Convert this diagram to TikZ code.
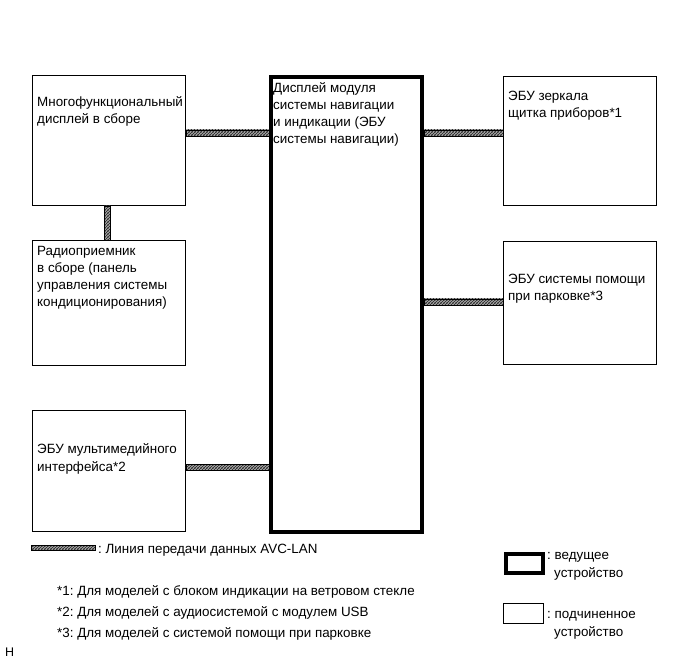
\documentclass[tikz,border=0pt]{standalone}
\usepackage{fontspec}
\setmainfont{Liberation Sans}
\frenchspacing
\usetikzlibrary{patterns.meta}
\tikzdeclarepattern{
  name=avchatch,
  type=uncolored,
  bottom left={(-.6pt,-.6pt)},
  top right={(3.6pt,3.6pt)},
  tile size={(3pt,3pt)},
  code={\draw[line width=1.1pt] (-.6pt,-.6pt) -- (3.6pt,3.6pt);}
}
\tikzset{
  slave/.style={draw, line width=0.8pt, anchor=north west, inner sep=0pt},
  master/.style={draw, line width=4pt, anchor=north west, inner sep=0pt},
  lbl/.style={anchor=base west, inner sep=0pt, align=left, font=\fontsize{13.4}{17.2}\selectfont},
  avc/.style={draw, line width=0.5pt, pattern=avchatch, pattern color=black!80},
  note/.style={anchor=base west, inner sep=0pt, font=\fontsize{13.4}{17}\selectfont},
}
\begin{document}
\begin{tikzpicture}[x=1pt,y=-1pt]
\useasboundingbox (0,0) rectangle (691,660);
% boxes
\node[slave, minimum width=153pt, minimum height=130pt] (A) at (32,75) {};
\node[slave, minimum width=153pt, minimum height=125pt] (B) at (32,240) {};
\node[slave, minimum width=153pt, minimum height=121pt] (C) at (32,410) {};
\node[master, minimum width=151pt, minimum height=455pt] (D) at (269,75) {};
\node[slave, minimum width=153pt, minimum height=129pt] (E) at (503,76) {};
\node[slave, minimum width=153pt, minimum height=123pt] (F) at (503,241) {};
% texts (anchor = baseline of the last line)
\node[lbl] (tA) at (37,124) {Многофункциональный\\дисплей в сборе};
\node[lbl] (tB) at (37,307) {Радиоприемник\\в сборе (панель\\управления системы\\кондиционирования)};
\node[lbl] (tC) at (37,471) {ЭБУ мультимедийного\\интерфейса*2};
\node[lbl] (tD) at (273,144) {Дисплей модуля\\системы навигации\\и индикации (ЭБУ\\системы навигации)};
\node[lbl] (tE) at (508,118) {ЭБУ зеркала\\щитка приборов*1};
\node[lbl] (tF) at (508,301) {ЭБУ системы помощи\\при парковке*3};
% AVC-LAN connectors
\path[avc] (A.east |- 0,130) rectangle (D.west |- 0,136);
\path[avc] (D.east |- 0,130) rectangle (E.west |- 0,136);
\path[avc] (D.east |- 0,299) rectangle (F.west |- 0,305);
\path[avc] (C.east |- 0,464) rectangle (D.west |- 0,470);
\path[avc] (A.south -| 104,0) rectangle (B.north -| 110,0);
% legend
\coordinate (l1) at (31,545);
\coordinate (l2) at (95,550);
\path[avc] (l1) rectangle (l2);
\node[note] (tl) at (98,553) {: Линия передачи данных AVC-LAN};
\node[note] (n1) at (57,595) {*1: Для моделей с блоком индикации на ветровом стекле};
\node[note] (n2) at (57,616) {*2: Для моделей с аудиосистемой с модулем USB};
\node[note] (n3) at (57,637) {*3: Для моделей с системой помощи при парковке};
\node[master, minimum width=37pt, minimum height=19pt] (m) at (504,552) {};
\node[lbl] (tm) at (547,577) {: ведущее\\\hspace*{7pt}устройство};
\node[slave, minimum width=40pt, minimum height=20pt] (s) at (503,603) {};
\node[lbl] (ts) at (547,636) {: подчиненное\\\hspace*{7pt}устройство};
\node[anchor=base west, inner sep=0pt, font=\fontsize{12.5}{14}\selectfont] (h) at (5,656) {H};
\end{tikzpicture}
\end{document}
